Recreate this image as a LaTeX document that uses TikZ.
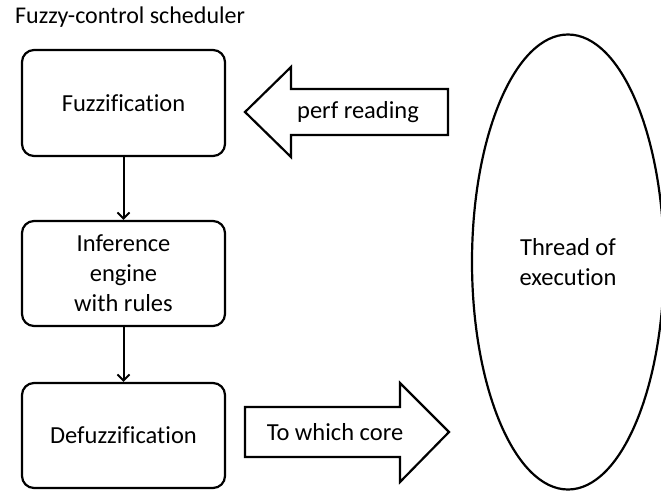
\documentclass[tikz,border=0pt]{standalone}
\usepackage{fontspec}
\setmainfont{Carlito}[Ligatures=NoCommon]
\usetikzlibrary{shapes.geometric, arrows.meta}
\tikzset{
  txt/.style={font=\fontsize{24.5}{30}\selectfont, align=center},
  stage/.style={draw, line width=2.2pt, rounded corners=12pt, minimum width=203pt, txt},
  blockarrow/.style={draw, line width=2.2pt, line join=miter, fill=white},
  flow/.style={line width=2pt, -{Straight Barb[length=6pt, width=12pt, line width=2pt]}}
}
\begin{document}
\begin{tikzpicture}[x=1pt, y=-1pt]
\useasboundingbox (0,0) rectangle (661,493);
\node[anchor=base west, inner sep=0pt, font=\fontsize{24}{29}\selectfont] (title) at (15,23.3) {Fuzzy-control scheduler};

\node[stage, minimum height=106pt] (fuzz) at (123.5,103) {Fuzzification};
\node[stage, minimum height=105pt] (infer) at (123.5,273.5) {Inference\\engine\\with rules};
\node[stage, minimum height=105pt] (defuzz) at (123.5,435.5) {Defuzzification};

\draw[flow] (fuzz) -- (infer);
\draw[flow] (infer) -- (defuzz);

% incoming measurement arrow
\draw[blockarrow] (245,112) -- (291,67) -- (291,89) -- (448,89) -- (448,135)
  -- (291,135) -- (291,157) -- cycle;
\node[txt] (perf) at (358,112) {perf reading};

% outgoing decision arrow
\draw[blockarrow] (245,407) -- (400,407) -- (400,383) -- (449,432) -- (400,482)
  -- (400,457) -- (245,457) -- cycle;
\node[txt] (core) at (335,432) {To which core};

\node[draw, ellipse, line width=2.2pt, minimum width=192pt, minimum height=455pt,
  inner sep=0pt, txt] (thread) at (568,262) {Thread of\\execution};
\end{tikzpicture}
\end{document}
